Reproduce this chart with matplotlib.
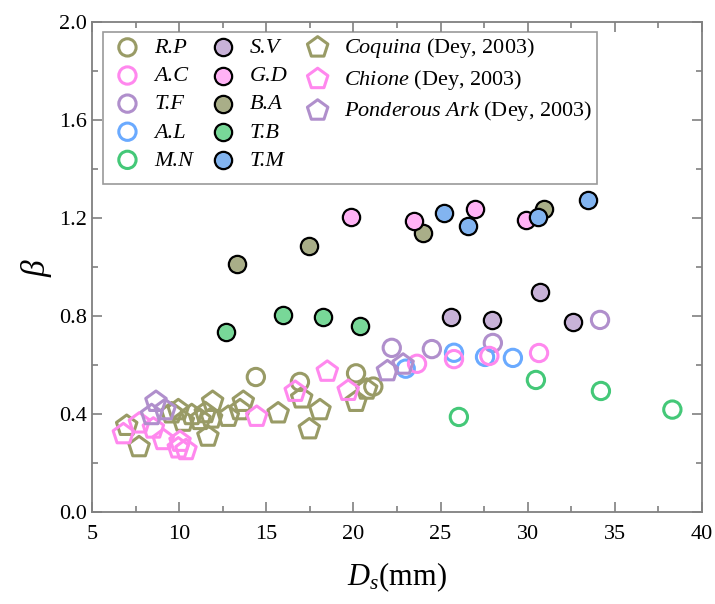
import matplotlib
matplotlib.use('Agg')
import matplotlib.pyplot as plt
from matplotlib.ticker import MultipleLocator

plt.rcParams['font.family'] = 'Liberation Serif'
plt.rcParams['mathtext.fontset'] = 'custom'
plt.rcParams['mathtext.rm'] = 'Liberation Serif'
plt.rcParams['mathtext.it'] = 'Liberation Serif:italic'

# open circles
rp_x = [14.4, 16.93, 20.15, 21.14]
rp_y = [0.551, 0.531, 0.566, 0.512]
ac_x = [23.65, 25.77, 27.8, 30.65]
ac_y = [0.605, 0.624, 0.637, 0.649]
tf_x = [22.2, 24.5, 28.0, 34.15]
tf_y = [0.670, 0.665, 0.690, 0.784]
al_x = [23.0, 25.77, 27.55, 29.15]
al_y = [0.585, 0.650, 0.633, 0.629]
mn_x = [26.05, 30.47, 34.2, 38.3]
mn_y = [0.388, 0.539, 0.494, 0.418]

# filled circles
sv_x = [25.6, 27.95, 30.7, 32.6]
sv_y = [0.796, 0.784, 0.898, 0.776]
gd_x = [19.86, 23.47, 26.97, 29.9]
gd_y = [1.204, 1.186, 1.237, 1.190]
ba_x = [13.32, 17.47, 24.0, 30.93]
ba_y = [1.012, 1.084, 1.139, 1.237]
tb_x = [12.69, 15.96, 18.25, 20.38]
tb_y = [0.735, 0.804, 0.796, 0.759]
tm_x = [25.2, 26.57, 30.6, 33.46]
tm_y = [1.220, 1.167, 1.204, 1.273]

# Dey (2003) pentagons
coq_x = [6.99, 7.7, 9.57, 9.95, 10.24, 10.72, 11.2, 11.5, 11.92, 11.86, 11.65,
         12.82, 13.49, 13.68, 15.68, 17.03, 18.08, 17.47, 20.15, 20.76]
coq_y = [0.352, 0.265, 0.403, 0.416, 0.369, 0.396, 0.376, 0.404, 0.450, 0.382, 0.308,
         0.389, 0.416, 0.450, 0.403, 0.464, 0.416, 0.338, 0.450, 0.500]
chi_x = [6.8, 7.72, 8.52, 9.09, 10.05, 9.95, 10.39, 14.45, 16.66, 18.5, 19.7]
chi_y = [0.318, 0.362, 0.341, 0.294, 0.287, 0.260, 0.253, 0.389, 0.491, 0.573, 0.495]
pa_x = [8.67, 8.42, 9.19, 21.95, 22.85]
pa_y = [0.450, 0.396, 0.416, 0.575, 0.602]

fig = plt.figure(figsize=(7.15, 6.04), dpi=100)
ax = fig.add_axes([0.1287, 0.1523, 0.8531, 0.8113])

s = 155
lw_open = 2.2
lw_fill = 1.6

ax.scatter(rp_x, rp_y, s=s, facecolors='none', edgecolors='#999B66', linewidths=lw_open, label='R.P', zorder=3)
ax.scatter(ac_x, ac_y, s=s, facecolors='none', edgecolors='#FF88EE', linewidths=lw_open, label='A.C', zorder=4)
ax.scatter(tf_x, tf_y, s=s, facecolors='none', edgecolors='#B08FCC', linewidths=lw_open, label='T.F', zorder=3)
ax.scatter(al_x, al_y, s=s, facecolors='none', edgecolors='#6AAAFF', linewidths=lw_open, label='A.L', zorder=3)
ax.scatter(mn_x, mn_y, s=s, facecolors='none', edgecolors='#44C878', linewidths=lw_open, label='M.N', zorder=3)

ax.scatter(sv_x, sv_y, s=s, facecolors='#C8B2D8', edgecolors='black', linewidths=lw_fill, label='S.V', zorder=3)
ax.scatter(gd_x, gd_y, s=s, facecolors='#FFB2F5', edgecolors='black', linewidths=lw_fill, label='G.D', zorder=4)
ax.scatter(ba_x, ba_y, s=s, facecolors='#A9AE88', edgecolors='black', linewidths=lw_fill, label='B.A', zorder=3)
ax.scatter(tb_x, tb_y, s=s, facecolors='#78D898', edgecolors='black', linewidths=lw_fill, label='T.B', zorder=3)
ax.scatter(tm_x, tm_y, s=s, facecolors='#82B4F0', edgecolors='black', linewidths=lw_fill, label='T.M', zorder=5)

ax.scatter(coq_x, coq_y, s=240, marker='p', facecolors='none', edgecolors='#999B66', linewidths=lw_open,
           label=r'$\mathit{Coquina}$ (Dey, 2003)', zorder=6)
ax.scatter(chi_x, chi_y, s=240, marker='p', facecolors='none', edgecolors='#FF88EE', linewidths=lw_open,
           label=r'$\mathit{Chione}$ (Dey, 2003)', zorder=7)
ax.scatter(pa_x, pa_y, s=240, marker='p', facecolors='none', edgecolors='#B08FCC', linewidths=lw_open,
           label=r'$\mathit{Ponderous\ Ark}$ (Dey, 2003)', zorder=7)

ax.set_xlim(5, 40)
ax.set_ylim(0, 2.0)
ax.xaxis.set_major_locator(MultipleLocator(5))
ax.xaxis.set_minor_locator(MultipleLocator(2.5))
ax.yaxis.set_major_locator(MultipleLocator(0.4))
ax.yaxis.set_minor_locator(MultipleLocator(0.2))
ax.yaxis.set_major_formatter(plt.FormatStrFormatter('%.1f'))
ax.tick_params(which='both', direction='in', top=True, right=True, colors='#808080',
               labelcolor='black', labelsize=16)
ax.tick_params(which='major', length=7, width=1.2)
ax.tick_params(which='minor', length=4, width=1.2)
ax.tick_params(axis='x', pad=9)
for sp in ax.spines.values():
    sp.set_color('#808080')
    sp.set_linewidth(1.3)

ax.set_xlabel(r'$\mathit{D_s}$(mm)', fontsize=22, labelpad=12)
ax.set_ylabel(r'$\mathit{\beta}$', fontsize=24, labelpad=4)

# two blank entries so the columns hold 5, 5 and 3 items
handles, labels = ax.get_legend_handles_labels()
blank = plt.Line2D([], [], linestyle='none', marker='none')
handles += [blank, blank]
labels += ['', '']
leg = ax.legend(handles, labels, ncol=3, loc='upper left', bbox_to_anchor=(0.018, 0.98),
                borderaxespad=0, fontsize=16, frameon=True,
                fancybox=False, edgecolor='#808080', borderpad=0.2, labelspacing=0.34,
                handletextpad=0.3, columnspacing=0.45, handlelength=1.8)
leg.get_frame().set_linewidth(1.2)
for t in leg.get_texts()[:10]:
    t.set_fontstyle('italic')

fig.savefig('out.png', dpi=100)
